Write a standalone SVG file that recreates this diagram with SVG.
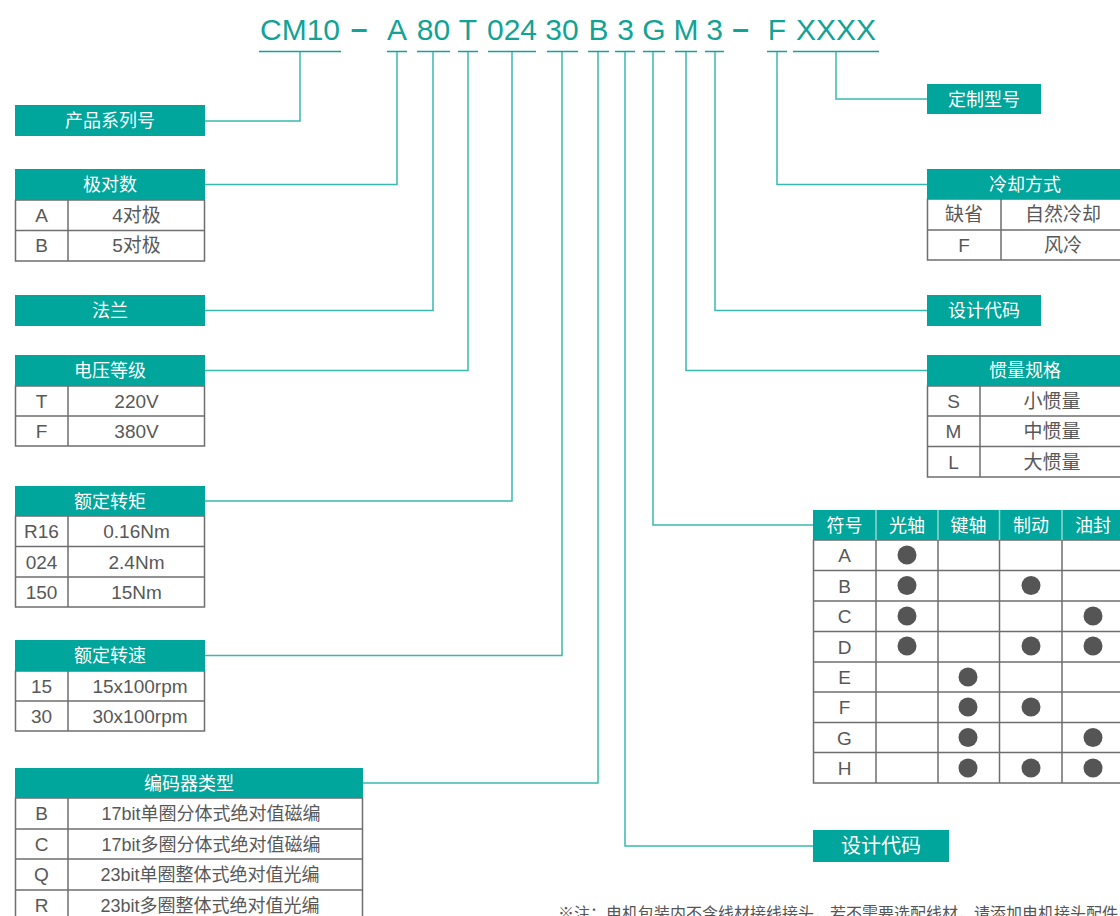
<svg xmlns="http://www.w3.org/2000/svg" width="1120" height="916" viewBox="0 0 1120 916">
<style>
text{font-family:"Liberation Sans","Noto Sans CJK SC",sans-serif}
.hd{fill:#00a59b}
.ht{fill:#fff;font-size:18px;text-anchor:middle}
.cell{fill:#fff;stroke:#6e6e6e;stroke-width:1.5}
.ln{stroke:#6e6e6e;stroke-width:1.5}
.ct{fill:#585858;font-size:19px;text-anchor:middle}
.enc{font-size:18px}
.code{fill:#13a396;font-size:30px;text-anchor:middle}
.ul{stroke:#13a396;stroke-width:1.5}
.conn{fill:none;stroke:#38b9ae;stroke-width:1.5}
.dot{fill:#555}
.hdl{stroke:#8fd8d1;stroke-width:1.5}
</style>

<g id="code">
<text class="code" x="300" y="40">CM10</text>
<text class="code" x="359" y="39" style="font-weight:bold">–</text>
<text class="code" x="397" y="40">A</text>
<text class="code" x="433.5" y="40">80</text>
<text class="code" x="468" y="40">T</text>
<text class="code" x="512" y="40">024</text>
<text class="code" x="562" y="40">30</text>
<text class="code" x="598.5" y="40">B</text>
<text class="code" x="625.5" y="40">3</text>
<text class="code" x="654" y="40">G</text>
<text class="code" x="686" y="40">M</text>
<text class="code" x="714.5" y="40">3</text>
<text class="code" x="740.5" y="39" style="font-weight:bold">–</text>
<text class="code" x="777" y="40">F</text>
<text class="code" x="836" y="40">XXXX</text>
<line class="ul" x1="259" y1="51.5" x2="341" y2="51.5"/>
<line class="ul" x1="387" y1="51.5" x2="407" y2="51.5"/>
<line class="ul" x1="417" y1="51.5" x2="450" y2="51.5"/>
<line class="ul" x1="458" y1="51.5" x2="478" y2="51.5"/>
<line class="ul" x1="488" y1="51.5" x2="536" y2="51.5"/>
<line class="ul" x1="547" y1="51.5" x2="578" y2="51.5"/>
<line class="ul" x1="588" y1="51.5" x2="609" y2="51.5"/>
<line class="ul" x1="615" y1="51.5" x2="635" y2="51.5"/>
<line class="ul" x1="643" y1="51.5" x2="665" y2="51.5"/>
<line class="ul" x1="675" y1="51.5" x2="697" y2="51.5"/>
<line class="ul" x1="705" y1="51.5" x2="724" y2="51.5"/>
<line class="ul" x1="767" y1="51.5" x2="787" y2="51.5"/>
<line class="ul" x1="793" y1="51.5" x2="879" y2="51.5"/>
</g>

<g id="connectors">
<path class="conn" d="M300,52 V121 H205"/>
<path class="conn" d="M397,52 V184.5 H205"/>
<path class="conn" d="M433,52 V310.5 H205"/>
<path class="conn" d="M468,52 V370.5 H205"/>
<path class="conn" d="M512,52 V501 H205"/>
<path class="conn" d="M562,52 V655.5 H205"/>
<path class="conn" d="M598,52 V783 H363"/>
<path class="conn" d="M625,52 V846 H813"/>
<path class="conn" d="M653,52 V525 H813"/>
<path class="conn" d="M686,52 V370.5 H927"/>
<path class="conn" d="M715,52 V310.5 H927"/>
<path class="conn" d="M777,52 V184.5 H927"/>
<path class="conn" d="M836,52 V99 H927"/>
</g>

<g id="series">
<rect class="hd" x="15" y="105" width="190" height="31"/>
<text class="ht" x="110" y="127">产品系列号</text>
</g>

<g id="poles">
<rect class="cell" x="15.5" y="200" width="189" height="61"/>
<line class="ln" x1="15.5" y1="230.5" x2="204.5" y2="230.5"/>
<line class="ln" x1="68" y1="200" x2="68" y2="261"/>
<rect class="hd" x="15" y="169" width="190" height="31"/>
<text class="ht" x="110" y="191">极对数</text>
<text class="ct" x="41.5" y="222">A</text><text class="ct" x="136.5" y="222">4对极</text>
<text class="ct" x="41.5" y="252">B</text><text class="ct" x="136.5" y="252">5对极</text>
</g>

<g id="flange">
<rect class="hd" x="15" y="295" width="190" height="31"/>
<text class="ht" x="110" y="317">法兰</text>
</g>

<g id="voltage">
<rect class="cell" x="15.5" y="386" width="189" height="60"/>
<line class="ln" x1="15.5" y1="416" x2="204.5" y2="416"/>
<line class="ln" x1="68" y1="386" x2="68" y2="446"/>
<rect class="hd" x="15" y="355" width="190" height="31"/>
<text class="ht" x="110" y="377">电压等级</text>
<text class="ct" x="41.5" y="408">T</text><text class="ct" x="136.5" y="408">220V</text>
<text class="ct" x="41.5" y="438">F</text><text class="ct" x="136.5" y="438">380V</text>
</g>

<g id="torque">
<rect class="cell" x="15.5" y="516" width="189" height="91"/>
<line class="ln" x1="15.5" y1="546.5" x2="204.5" y2="546.5"/>
<line class="ln" x1="15.5" y1="577" x2="204.5" y2="577"/>
<line class="ln" x1="68" y1="516" x2="68" y2="607"/>
<rect class="hd" x="15" y="486" width="190" height="30"/>
<text class="ht" x="110" y="507.5">额定转矩</text>
<text class="ct" x="41.5" y="538">R16</text><text class="ct" x="136.5" y="538">0.16Nm</text>
<text class="ct" x="41.5" y="568.5">024</text><text class="ct" x="136.5" y="568.5">2.4Nm</text>
<text class="ct" x="41.5" y="599">150</text><text class="ct" x="136.5" y="599">15Nm</text>
</g>

<g id="speed">
<rect class="cell" x="15.5" y="671" width="189" height="60"/>
<line class="ln" x1="15.5" y1="701" x2="204.5" y2="701"/>
<line class="ln" x1="68" y1="671" x2="68" y2="731"/>
<rect class="hd" x="15" y="640" width="190" height="31"/>
<text class="ht" x="110" y="662">额定转速</text>
<text class="ct" x="41.5" y="693">15</text><text class="ct" x="140" y="693">15x100rpm</text>
<text class="ct" x="41.5" y="723">30</text><text class="ct" x="140" y="723">30x100rpm</text>
</g>

<g id="encoder">
<rect class="cell" x="15.5" y="798" width="347" height="130"/>
<line class="ln" x1="15.5" y1="829" x2="362.5" y2="829"/>
<line class="ln" x1="15.5" y1="859" x2="362.5" y2="859"/>
<line class="ln" x1="15.5" y1="890" x2="362.5" y2="890"/>
<line class="ln" x1="68" y1="798" x2="68" y2="928"/>
<rect class="hd" x="15" y="768" width="348" height="30"/>
<text class="ht" x="189" y="790">编码器类型</text>
<text class="ct" x="41.5" y="820">B</text><text class="ct enc" x="211" y="820">17bit单圈分体式绝对值磁编</text>
<text class="ct" x="41.5" y="850.5">C</text><text class="ct enc" x="211" y="850.5">17bit多圈分体式绝对值磁编</text>
<text class="ct" x="41.5" y="881">Q</text><text class="ct enc" x="210" y="881">23bit单圈整体式绝对值光编</text>
<text class="ct" x="41.5" y="911.5">R</text><text class="ct enc" x="210" y="911.5">23bit多圈整体式绝对值光编</text>
</g>

<g id="custom">
<rect class="hd" x="927" y="84" width="114" height="30"/>
<text class="ht" x="984" y="105.5">定制型号</text>
</g>

<g id="cooling">
<rect class="cell" x="927.5" y="199" width="197" height="61"/>
<line class="ln" x1="927.5" y1="230" x2="1124" y2="230"/>
<line class="ln" x1="1001" y1="199" x2="1001" y2="260"/>
<rect class="hd" x="927" y="169" width="198" height="30"/>
<text class="ht" x="1025" y="190.5">冷却方式</text>
<text class="ct" x="964" y="221">缺省</text><text class="ct" x="1063" y="221">自然冷却</text>
<text class="ct" x="964" y="251.5">F</text><text class="ct" x="1063" y="251.5">风冷</text>
</g>

<g id="design-code-1">
<rect class="hd" x="927" y="295" width="114" height="31"/>
<text class="ht" x="984" y="317">设计代码</text>
</g>

<g id="inertia">
<rect class="cell" x="927.5" y="386" width="197" height="91"/>
<line class="ln" x1="927.5" y1="416" x2="1124" y2="416"/>
<line class="ln" x1="927.5" y1="446.5" x2="1124" y2="446.5"/>
<line class="ln" x1="980" y1="386" x2="980" y2="477"/>
<rect class="hd" x="927" y="355" width="198" height="31"/>
<text class="ht" x="1025" y="377">惯量规格</text>
<text class="ct" x="953.5" y="408">S</text><text class="ct" x="1052" y="408">小惯量</text>
<text class="ct" x="953.5" y="438">M</text><text class="ct" x="1052" y="438">中惯量</text>
<text class="ct" x="953.5" y="468.5">L</text><text class="ct" x="1052" y="468.5">大惯量</text>
</g>

<g id="shaft">
<rect class="cell" x="813.5" y="540" width="311" height="243"/>
<line class="ln" x1="813.5" y1="570.5" x2="1124" y2="570.5"/>
<line class="ln" x1="813.5" y1="601" x2="1124" y2="601"/>
<line class="ln" x1="813.5" y1="631.5" x2="1124" y2="631.5"/>
<line class="ln" x1="813.5" y1="662" x2="1124" y2="662"/>
<line class="ln" x1="813.5" y1="692" x2="1124" y2="692"/>
<line class="ln" x1="813.5" y1="722.5" x2="1124" y2="722.5"/>
<line class="ln" x1="813.5" y1="752.5" x2="1124" y2="752.5"/>
<line class="ln" x1="876" y1="540" x2="876" y2="783"/>
<line class="ln" x1="938" y1="540" x2="938" y2="783"/>
<line class="ln" x1="999.5" y1="540" x2="999.5" y2="783"/>
<line class="ln" x1="1062" y1="540" x2="1062" y2="783"/>
<rect class="hd" x="813" y="510" width="312" height="30"/>
<line class="hdl" x1="876" y1="510" x2="876" y2="540"/>
<line class="hdl" x1="938" y1="510" x2="938" y2="540"/>
<line class="hdl" x1="999.5" y1="510" x2="999.5" y2="540"/>
<line class="hdl" x1="1062" y1="510" x2="1062" y2="540"/>
<text class="ht" x="844.5" y="531.5">符号</text>
<text class="ht" x="907" y="531.5">光轴</text>
<text class="ht" x="968.5" y="531.5">键轴</text>
<text class="ht" x="1031" y="531.5">制动</text>
<text class="ht" x="1093" y="531.5">油封</text>
<text class="ct" x="844.5" y="562">A</text>
<text class="ct" x="844.5" y="592.5">B</text>
<text class="ct" x="844.5" y="623">C</text>
<text class="ct" x="844.5" y="653.5">D</text>
<text class="ct" x="844.5" y="684">E</text>
<text class="ct" x="844.5" y="714">F</text>
<text class="ct" x="844.5" y="744.5">G</text>
<text class="ct" x="844.5" y="775">H</text>
<circle class="dot" cx="907" cy="555" r="9.5"/>
<circle class="dot" cx="907" cy="585.5" r="9.5"/>
<circle class="dot" cx="1031" cy="585.5" r="9.5"/>
<circle class="dot" cx="907" cy="616" r="9.5"/>
<circle class="dot" cx="1093" cy="616" r="9.5"/>
<circle class="dot" cx="907" cy="646" r="9.5"/>
<circle class="dot" cx="1031" cy="646" r="9.5"/>
<circle class="dot" cx="1093" cy="646" r="9.5"/>
<circle class="dot" cx="968" cy="677" r="9.5"/>
<circle class="dot" cx="968" cy="707" r="9.5"/>
<circle class="dot" cx="1031" cy="707" r="9.5"/>
<circle class="dot" cx="968" cy="737.5" r="9.5"/>
<circle class="dot" cx="1093" cy="737.5" r="9.5"/>
<circle class="dot" cx="968" cy="768" r="9.5"/>
<circle class="dot" cx="1031" cy="768" r="9.5"/>
<circle class="dot" cx="1093" cy="768" r="9.5"/>
</g>

<g id="design-code-2">
<rect class="hd" x="813" y="830" width="136" height="32"/>
<text class="ht" x="881" y="853" style="font-size:20px">设计代码</text>
</g>

<g id="note">
<text x="558" y="919" style="fill:#555;font-size:16px">※注：电机包装内不含线材接线接头，若不需要选配线材，请添加电机接头配件</text>
</g>
</svg>
